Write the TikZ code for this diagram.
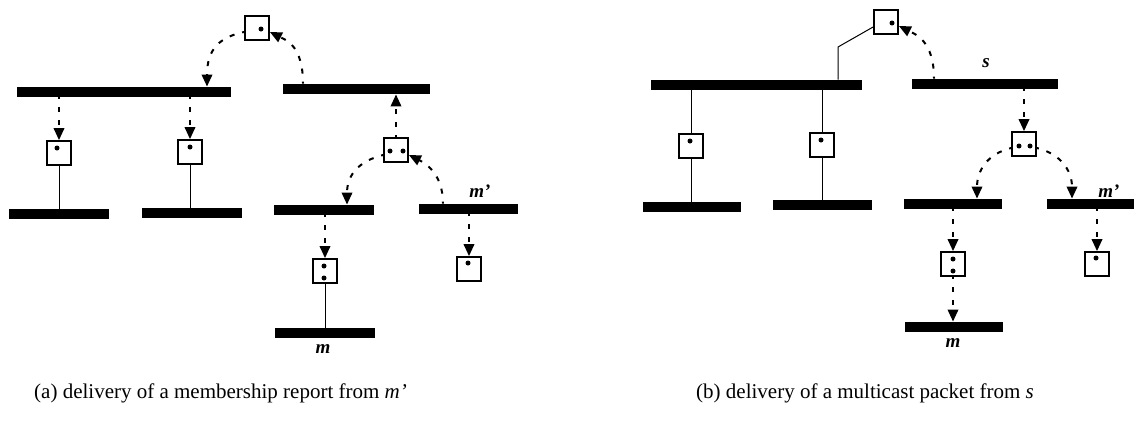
\documentclass[tikz,border=0pt]{standalone}
\usepackage{fontspec}
\setmainfont{Liberation Serif}
\usetikzlibrary{arrows.meta,calc}
\begin{document}
\begin{tikzpicture}[x=1pt,y=-1pt,
  bar/.style={fill=black, inner sep=0pt, minimum height=10.5pt, rectangle, draw=none},
  rtr/.style={draw, line width=1.8pt, minimum size=24pt, inner sep=0pt, fill=white, rectangle},
  darr/.style={line width=2pt, dash pattern=on 5pt off 8pt, dash phase=3pt, -{Triangle[length=12pt,width=10.5pt]}},
  sol/.style={line width=1pt},
  dot/.style={fill=black, circle, inner sep=0pt, minimum size=5pt},
  lbl/.style={font=\fontsize{19}{19}\selectfont\bfseries\itshape, inner sep=0pt},
  captext/.style={font=\fontsize{21}{21}\selectfont, inner sep=0pt, anchor=base west},
]
\useasboundingbox (0,0) rectangle (1134,424);

% ---------------- (a) ----------------
\node[bar, minimum width=214pt] (A) at (124,92) {};
\node[bar, minimum width=147pt] (B) at (356.5,89) {};
\node[bar, minimum width=100pt] (C) at (324,210) {};
\node[bar, minimum width=99pt]  (D) at (468.5,209) {};
\node[bar, minimum width=100pt] (E) at (325,333) {};
\node[bar, minimum width=100pt] (F) at (59,214) {};
\node[bar, minimum width=100pt] (G) at (192,213) {};

\node[rtr] (R0) at (257,28) {};
\node[rtr] (R1) at (396,150) {};
\node[rtr] (R2) at (325,271) {};
\node[rtr] (R3) at (469,269) {};
\node[rtr] (R4) at (59,153) {};
\node[rtr] (R5) at (190,152) {};

\node[dot] (d0) at ($(R0)+(4,1)$) {};
\node[dot] (d1a) at ($(R1)+(-6,1)$) {};
\node[dot] (d1b) at ($(R1)+(7,1)$) {};
\node[dot] (d2a) at ($(R2)+(-1,-5)$) {};
\node[dot] (d2b) at ($(R2)+(-1,7)$) {};
\node[dot] (d3) at ($(R3)+(-1,-6)$) {};
\node[dot] (d4) at ($(R4)+(-2,-5)$) {};
\node[dot] (d5) at ($(R5)+(0,-5)$) {};

\node[lbl] (lmp) at (480,191) {m’};
\node[lbl] (lm) at (323,349) {m};

\coordinate (xa1) at (207,0);
\coordinate (xb1) at (303,0);
\coordinate (xc1) at (347,0);
\coordinate (xd1) at (443,0);

\draw[sol] (R4.south) -- (R4.south |- F.north);
\draw[sol] (R5.south) -- (R5.south |- G.north);
\draw[sol] (R2.south) -- (R2.south |- E.north);

\draw[darr] (A.south -| R4) -- (R4.north);
\draw[darr] (A.south -| R5) -- (R5.north);
\draw[darr] (R1.north) -- (R1.north |- B.south);
\draw[darr] (C.south -| R2) -- (R2.north);
\draw[darr] (D.south -| R3) -- (R3.north);

\draw[darr] ($(R0.west)+(0,4)$) .. controls +(-24,5) and +(0,-38) .. (A.north -| xa1);
\draw[darr] (B.north -| xb1) .. controls +(0,-38) and +(16,8) .. ($(R0.east)+(0,4)$);
\draw[darr] ($(R1.west)+(0,5)$) .. controls +(-24,6) and +(0,-30) .. (C.north -| xc1);
\draw[darr] (D.north -| xd1) .. controls +(0,-30) and +(16,8) .. ($(R1.east)+(0,5)$);

% ---------------- (b) ----------------
\node[bar, minimum width=211pt] (Ab) at (756.5,85) {};
\node[bar, minimum width=146pt] (Bb) at (985,84) {};
\node[bar, minimum width=98pt]  (Cb) at (953,204) {};
\node[bar, minimum width=87pt]  (Db) at (1090.5,204) {};
\node[bar, minimum width=98pt]  (Eb) at (954,327) {};
\node[bar, minimum width=98pt]  (Fb) at (692,207) {};
\node[bar, minimum width=99pt]  (Gb) at (822.5,205) {};

\node[rtr] (Rb0) at (886,22) {};
\node[rtr] (Rb1) at (1024,144) {};
\node[rtr] (Rb2) at (953,264) {};
\node[rtr] (Rb3) at (1097,264) {};
\node[rtr] (Rb4) at (691,146) {};
\node[rtr] (Rb5) at (822,145) {};

\node[dot] (e0) at ($(Rb0)+(6,1)$) {};
\node[dot] (e1a) at ($(Rb1)+(-5,2)$) {};
\node[dot] (e1b) at ($(Rb1)+(6,2)$) {};
\node[dot] (e2a) at ($(Rb2)+(0,-5)$) {};
\node[dot] (e2b) at ($(Rb2)+(0,7)$) {};
\node[dot] (e3) at ($(Rb3)+(-1,-6)$) {};
\node[dot] (e4) at ($(Rb4)+(-1,-5)$) {};
\node[dot] (e5) at ($(Rb5)+(-1,-5)$) {};

\node[lbl] (ls) at (986,63) {s};
\node[lbl] (lmpb) at (1109,191) {m’};
\node[lbl] (lmb) at (953,343) {m};

\coordinate (kb) at (838,47);
\coordinate (xb2) at (934,0);
\coordinate (xc2) at (977,0);
\coordinate (xd2) at (1072,0);

\draw[sol] ($(Rb0.west)+(0,5)$) -- (kb) -- (kb |- Ab.north);
\draw[sol] (Rb4.north |- Ab.south) -- (Rb4.north);
\draw[sol] (Rb4.south) -- (Rb4.south |- Fb.north);
\draw[sol] (Rb5.north |- Ab.south) -- (Rb5.north);
\draw[sol] (Rb5.south) -- (Rb5.south |- Gb.north);

\draw[darr] (Bb.south -| Rb1) -- (Rb1.north);
\draw[darr] (Cb.south -| Rb2) -- (Rb2.north);
\draw[darr] (Rb2.south) -- (Rb2.south |- Eb.north);
\draw[darr] (Db.south -| Rb3) -- (Rb3.north);

\draw[darr] (Bb.north -| xb2) .. controls +(0,-38) and +(16,8) .. ($(Rb0.east)+(0,4)$);
\draw[darr] ($(Rb1.west)+(0,4)$) .. controls +(-24,6) and +(0,-28) .. (Cb.north -| xc2);
\draw[darr] ($(Rb1.east)+(0,4)$) .. controls +(24,6) and +(0,-28) .. (Db.north -| xd2);

% ---------------- captions ----------------
\node[captext] (capa) at (34,398) {(a) delivery of a membership report from \textit{m’}};
\node[captext] (capb) at (696,398) {(b) delivery of a multicast packet from \textit{s}};
\end{tikzpicture}
\end{document}
